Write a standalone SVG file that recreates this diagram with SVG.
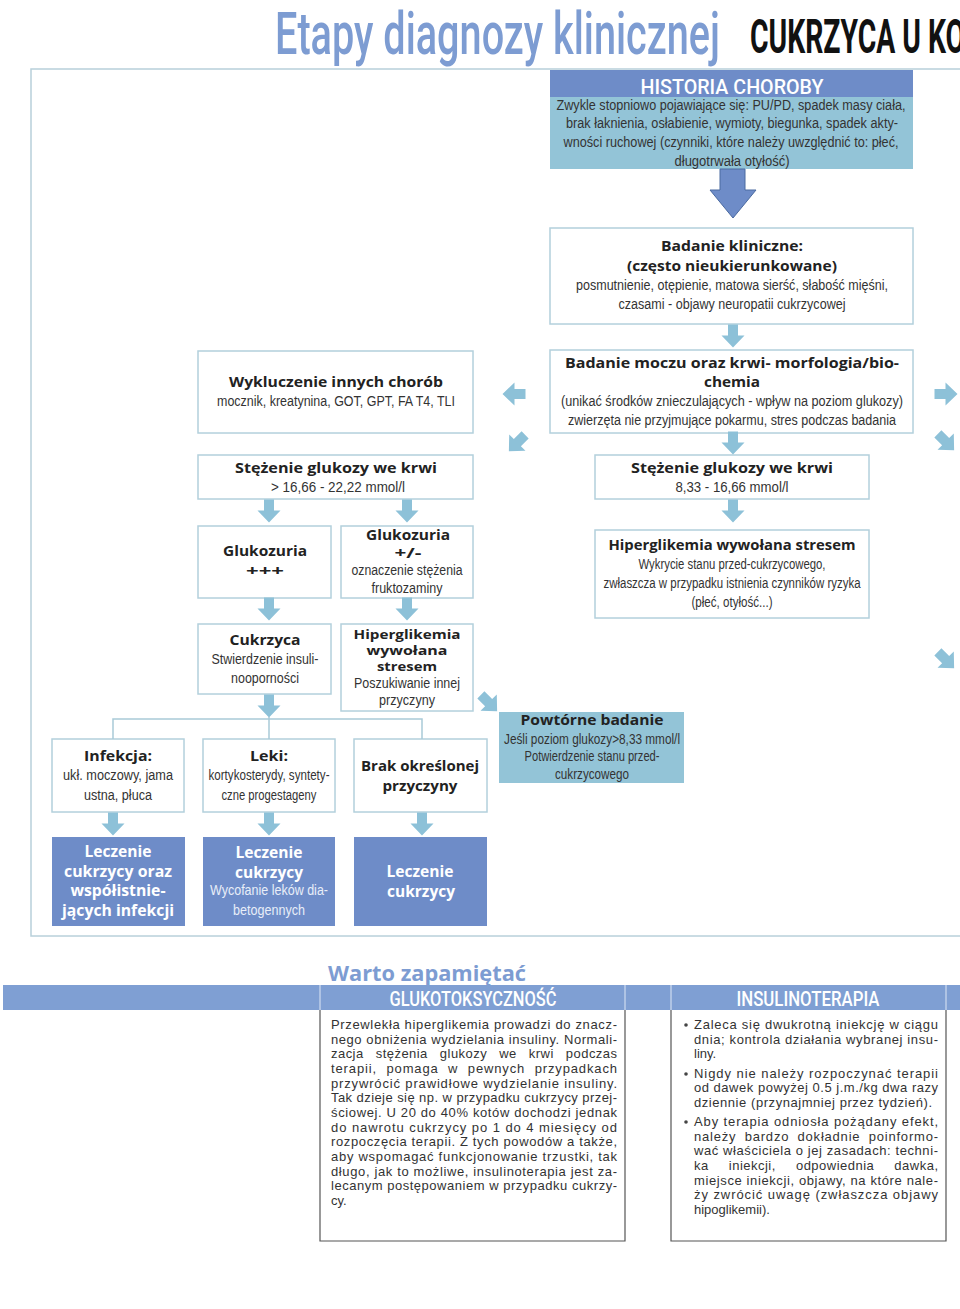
<svg xmlns="http://www.w3.org/2000/svg" xmlns:xlink="http://www.w3.org/1999/xlink" width="960" height="1309" viewBox="0 0 960 1309">
<style>
.box{fill:#ffffff;stroke:#b3d0dc;stroke-width:1.5}
.teal{fill:#93c4d7}
.dark{fill:#6e8cc8}
.r{font-family:"Liberation Sans",Arial,sans-serif;font-size:14px;fill:#333333;text-anchor:middle}
.b{font-family:"Open Sans","Liberation Sans",sans-serif;font-weight:bold;font-size:15px;fill:#222222;text-anchor:middle}
.bs{font-size:13px}
.bw{font-family:"Open Sans","Liberation Sans",sans-serif;font-weight:bold;font-size:16px;fill:#ffffff;text-anchor:middle}
.rw{font-family:"Liberation Sans",Arial,sans-serif;font-size:14px;fill:#e8eef8;text-anchor:middle}
.hd{font-family:Roboto,"Liberation Sans",Arial,sans-serif;font-weight:500;font-size:21px;fill:#ffffff;text-anchor:middle}
.p{font-family:"Liberation Sans",Arial,sans-serif;font-size:13px;fill:#333333}
.line{stroke:#a9cad8;stroke-width:1.5;fill:none}
.arr{fill:#8dc1d8}
</style>
<defs>
<path id="a" d="M-5,-11.5 h10 v11 h6.5 l-11.5,12 l-11.5,-12 h6.5 z"/>
</defs>
<rect width="960" height="1309" fill="#ffffff"/>

<g id="title">
<text x="275" y="54" font-family="Roboto,Liberation Sans,Arial,sans-serif" font-weight="500" font-size="59" fill="#7d9cd2" textLength="445" lengthAdjust="spacingAndGlyphs">Etapy diagnozy klinicznej</text>
<text x="750" y="53" font-family="Roboto,Liberation Sans,Arial,sans-serif" font-weight="bold" font-size="48" fill="#111111" textLength="215" lengthAdjust="spacingAndGlyphs">CUKRZYCA U KO</text>
</g>

<rect id="frame" x="31" y="69" width="960" height="867" fill="none" stroke="#b8d0da" stroke-width="1.5"/>

<g id="historia">
<rect class="teal" x="550" y="97" width="363" height="72"/>
<rect class="dark" x="550" y="70" width="363" height="27"/>
<text class="hd" x="732" y="94" font-size="22" textLength="183" lengthAdjust="spacingAndGlyphs">HISTORIA CHOROBY</text>
<text class="r" x="731" y="110" font-size="13.5" textLength="349" lengthAdjust="spacingAndGlyphs">Zwykle stopniowo pojawiające się: PU/PD, spadek masy ciała,</text>
<text class="r" x="732" y="128" font-size="13.5" textLength="332" lengthAdjust="spacingAndGlyphs">brak łaknienia, osłabienie, wymioty, biegunka, spadek akty-</text>
<text class="r" x="731" y="147" font-size="13.5" textLength="335" lengthAdjust="spacingAndGlyphs">wności ruchowej (czynniki, które należy uwzględnić to: płeć,</text>
<text class="r" x="732" y="166" font-size="13.5" textLength="115" lengthAdjust="spacingAndGlyphs">długotrwała otyłość)</text>
</g>

<g id="badanie-kliniczne">
<rect class="box" x="550" y="228" width="363" height="96"/>
<text class="b" x="732" y="251" textLength="142" lengthAdjust="spacingAndGlyphs">Badanie kliniczne:</text>
<text class="b" x="732" y="271" textLength="210" lengthAdjust="spacingAndGlyphs">(często nieukierunkowane)</text>
<text class="r" x="732" y="290" textLength="312" lengthAdjust="spacingAndGlyphs">posmutnienie, otępienie, matowa sierść, słabość mięśni,</text>
<text class="r" x="732" y="309" textLength="227" lengthAdjust="spacingAndGlyphs">czasami - objawy neuropatii cukrzycowej</text>
</g>

<g id="badanie-moczu">
<rect class="box" x="550" y="350" width="363" height="83"/>
<text class="b" x="732" y="368" textLength="334" lengthAdjust="spacingAndGlyphs">Badanie moczu oraz krwi- morfologia/bio-</text>
<text class="b" x="732" y="387" textLength="56" lengthAdjust="spacingAndGlyphs">chemia</text>
<text class="r" x="732" y="406" textLength="342" lengthAdjust="spacingAndGlyphs">(unikać środków znieczulających - wpływ na poziom glukozy)</text>
<text class="r" x="732" y="425" textLength="328" lengthAdjust="spacingAndGlyphs">zwierzęta nie przyjmujące pokarmu, stres podczas badania</text>
</g>

<g id="wykluczenie">
<rect class="box" x="198" y="351" width="275" height="82"/>
<text class="b" x="336" y="387" textLength="214" lengthAdjust="spacingAndGlyphs">Wykluczenie innych chorób</text>
<text class="r" x="336" y="406" textLength="238" lengthAdjust="spacingAndGlyphs">mocznik, kreatynina, GOT, GPT, FA T4, TLI</text>
</g>

<g id="stezenie-wysokie">
<rect class="box" x="198" y="455" width="275" height="44"/>
<text class="b" x="336" y="473" textLength="202" lengthAdjust="spacingAndGlyphs">Stężenie glukozy we krwi</text>
<text class="r" x="338" y="492" textLength="134" lengthAdjust="spacingAndGlyphs">&gt; 16,66 - 22,22 mmol/l</text>
</g>

<g id="stezenie-srednie">
<rect class="box" x="595" y="455" width="274" height="44"/>
<text class="b" x="732" y="473" textLength="202" lengthAdjust="spacingAndGlyphs">Stężenie glukozy we krwi</text>
<text class="r" x="732" y="492" textLength="113" lengthAdjust="spacingAndGlyphs">8,33 - 16,66 mmol/l</text>
</g>

<g id="glukozuria-plus">
<rect class="box" x="198" y="526" width="133" height="72"/>
<text class="b" x="265" y="556" textLength="84" lengthAdjust="spacingAndGlyphs">Glukozuria</text>
<text class="b" x="265" y="576" textLength="38" lengthAdjust="spacingAndGlyphs">+++</text>
</g>

<g id="glukozuria-plusminus">
<rect class="box" x="341" y="526" width="132" height="72"/>
<text class="b" x="408" y="540" textLength="84" lengthAdjust="spacingAndGlyphs">Glukozuria</text>
<text class="b" x="408" y="558" textLength="27" lengthAdjust="spacingAndGlyphs">+/-</text>
<text class="r" x="407" y="575" textLength="111" lengthAdjust="spacingAndGlyphs">oznaczenie stężenia</text>
<text class="r" x="407" y="593" textLength="71" lengthAdjust="spacingAndGlyphs">fruktozaminy</text>
</g>

<g id="hiperglikemia-stres-prawa">
<rect class="box" x="595" y="530" width="274" height="88"/>
<text class="b" x="732" y="550" textLength="247" lengthAdjust="spacingAndGlyphs">Hiperglikemia wywołana stresem</text>
<text class="r" x="732" y="569" textLength="187" lengthAdjust="spacingAndGlyphs">Wykrycie stanu przed-cukrzycowego,</text>
<text class="r" x="732" y="588" textLength="257" lengthAdjust="spacingAndGlyphs">zwłaszcza w przypadku istnienia czynników ryzyka</text>
<text class="r" x="732" y="607" textLength="81" lengthAdjust="spacingAndGlyphs">(płeć, otyłość...)</text>
</g>

<g id="cukrzyca">
<rect class="box" x="198" y="624" width="133" height="70"/>
<text class="b" x="265" y="645" textLength="71" lengthAdjust="spacingAndGlyphs">Cukrzyca</text>
<text class="r" x="265" y="664" textLength="107" lengthAdjust="spacingAndGlyphs">Stwierdzenie insuli-</text>
<text class="r" x="265" y="683" textLength="68" lengthAdjust="spacingAndGlyphs">nooporności</text>
</g>

<g id="hiperglikemia-stres-lewa">
<rect class="box" x="341" y="624" width="132" height="87"/>
<text class="b bs" x="407" y="639" textLength="107" lengthAdjust="spacingAndGlyphs">Hiperglikemia</text>
<text class="b bs" x="407" y="655" textLength="81" lengthAdjust="spacingAndGlyphs">wywołana</text>
<text class="b bs" x="407" y="671" textLength="60" lengthAdjust="spacingAndGlyphs">stresem</text>
<text class="r" x="407" y="688" textLength="106" lengthAdjust="spacingAndGlyphs">Poszukiwanie innej</text>
<text class="r" x="407" y="705" textLength="56" lengthAdjust="spacingAndGlyphs">przyczyny</text>
</g>

<g id="powtorne-badanie">
<rect class="teal" x="499" y="712" width="185" height="71"/>
<text class="b" x="592" y="725" textLength="143" lengthAdjust="spacingAndGlyphs">Powtórne badanie</text>
<text class="r" x="592" y="744" textLength="176" lengthAdjust="spacingAndGlyphs">Jeśli poziom glukozy&gt;8,33 mmol/l</text>
<text class="r" x="592" y="761" textLength="135" lengthAdjust="spacingAndGlyphs">Potwierdzenie stanu przed-</text>
<text class="r" x="592" y="779" textLength="74" lengthAdjust="spacingAndGlyphs">cukrzycowego</text>
</g>

<g id="infekcja">
<rect class="box" x="52" y="739" width="132" height="73"/>
<text class="b" x="118" y="761" textLength="68" lengthAdjust="spacingAndGlyphs">Infekcja:</text>
<text class="r" x="118" y="780" textLength="110" lengthAdjust="spacingAndGlyphs">ukł. moczowy, jama</text>
<text class="r" x="118" y="800" textLength="68" lengthAdjust="spacingAndGlyphs">ustna, płuca</text>
</g>

<g id="leki">
<rect class="box" x="203" y="739" width="132" height="73"/>
<text class="b" x="269" y="761" textLength="38" lengthAdjust="spacingAndGlyphs">Leki:</text>
<text class="r" x="269" y="780" textLength="121" lengthAdjust="spacingAndGlyphs">kortykosterydy, syntety-</text>
<text class="r" x="269" y="800" textLength="95" lengthAdjust="spacingAndGlyphs">czne progestageny</text>
</g>

<g id="brak-przyczyny">
<rect class="box" x="354" y="739" width="133" height="73"/>
<text class="b" x="420" y="771" textLength="118" lengthAdjust="spacingAndGlyphs">Brak określonej</text>
<text class="b" x="420" y="791" textLength="75" lengthAdjust="spacingAndGlyphs">przyczyny</text>
</g>

<g id="leczenie-infekcji">
<rect class="dark" x="52" y="837" width="133" height="89"/>
<text class="bw" x="118" y="857" textLength="67" lengthAdjust="spacingAndGlyphs">Leczenie</text>
<text class="bw" x="118" y="877" textLength="108" lengthAdjust="spacingAndGlyphs">cukrzycy oraz</text>
<text class="bw" x="118" y="896" textLength="95" lengthAdjust="spacingAndGlyphs">współistnie-</text>
<text class="bw" x="118" y="916" textLength="112" lengthAdjust="spacingAndGlyphs">jących infekcji</text>
</g>

<g id="leczenie-leki">
<rect class="dark" x="203" y="837" width="132" height="89"/>
<text class="bw" x="269" y="858" textLength="67" lengthAdjust="spacingAndGlyphs">Leczenie</text>
<text class="bw" x="269" y="878" textLength="68" lengthAdjust="spacingAndGlyphs">cukrzycy</text>
<text class="rw" x="269" y="895" textLength="118" lengthAdjust="spacingAndGlyphs">Wycofanie leków dia-</text>
<text class="rw" x="269" y="915" textLength="72" lengthAdjust="spacingAndGlyphs">betogennych</text>
</g>

<g id="leczenie-cukrzycy">
<rect class="dark" x="354" y="837" width="133" height="89"/>
<text class="bw" x="420" y="877" textLength="67" lengthAdjust="spacingAndGlyphs">Leczenie</text>
<text class="bw" x="421" y="897" textLength="68" lengthAdjust="spacingAndGlyphs">cukrzycy</text>
</g>

<g id="connectors">
<path d="M720,169 h25 v21 h11 l-23,28 l-23,-28 h10 z" fill="#6e8cc8" stroke="#4a6aa0" stroke-width="1"/>
<use href="#a" class="arr" transform="translate(733,336)"/>
<use href="#a" class="arr" transform="translate(733,443)"/>
<use href="#a" class="arr" transform="translate(514,394) rotate(90)"/>
<use href="#a" class="arr" transform="translate(517,443) rotate(45)"/>
<use href="#a" class="arr" transform="translate(946,394) rotate(-90)"/>
<use href="#a" class="arr" transform="translate(946,442) rotate(-45)"/>
<use href="#a" class="arr" transform="translate(946,660) rotate(-45)"/>
<use href="#a" class="arr" transform="translate(269,511)"/>
<use href="#a" class="arr" transform="translate(407,511)"/>
<use href="#a" class="arr" transform="translate(733,511)"/>
<use href="#a" class="arr" transform="translate(269,609)"/>
<use href="#a" class="arr" transform="translate(407,609)"/>
<use href="#a" class="arr" transform="translate(269,706)"/>
<use href="#a" class="arr" transform="translate(489,703) rotate(-45)"/>
<path class="line" d="M113,739 V719 H422 V739 M269,717 V739"/>
<use href="#a" class="arr" transform="translate(113,824)"/>
<use href="#a" class="arr" transform="translate(269,824)"/>
<use href="#a" class="arr" transform="translate(422,824)"/>
</g>

<g id="warto-zapamietac">
<text x="328" y="981" font-family="Open Sans,Liberation Sans,sans-serif" font-weight="bold" font-size="21" fill="#7d9cd2" textLength="198" lengthAdjust="spacingAndGlyphs">Warto zapamiętać</text>
<rect x="3" y="985" width="960" height="25" fill="#7f9fd3"/>
<path d="M320,985 V1010 M625,985 V1010 M671,985 V1010 M946,985 V1010" stroke="#dfe7f5" stroke-width="1"/>
<text class="hd" x="473" y="1006" font-size="20" textLength="167" lengthAdjust="spacingAndGlyphs">GLUKOTOKSYCZNOŚĆ</text>
<text class="hd" x="808" y="1006" font-size="20" textLength="143" lengthAdjust="spacingAndGlyphs">INSULINOTERAPIA</text>
</g>

<g id="glukotoksycznosc">
<path d="M320,1010 V1241 H625 V1010" fill="none" stroke="#555555" stroke-width="1.2"/>
<text class="p" x="331" y="1029" textLength="286" lengthAdjust="spacing">Przewlekła hiperglikemia prowadzi do znacz-</text>
<text class="p" x="331" y="1044" textLength="286" lengthAdjust="spacing">nego obniżenia wydzielania insuliny. Normali-</text>
<text class="p" x="331" y="1058" textLength="286" lengthAdjust="spacing" word-spacing="8">zacja stężenia glukozy we krwi podczas</text>
<text class="p" x="331" y="1073" textLength="286" lengthAdjust="spacing" word-spacing="5">terapii, pomaga w pewnych przypadkach</text>
<text class="p" x="331" y="1088" textLength="286" lengthAdjust="spacing">przywrócić prawidłowe wydzielanie insuliny.</text>
<text class="p" x="331" y="1102" textLength="286" lengthAdjust="spacing">Tak dzieje się np. w przypadku cukrzycy przej-</text>
<text class="p" x="331" y="1117" textLength="286" lengthAdjust="spacing">ściowej. U 20 do 40% kotów dochodzi jednak</text>
<text class="p" x="331" y="1132" textLength="286" lengthAdjust="spacing">do nawrotu cukrzycy po 1 do 4 miesięcy od</text>
<text class="p" x="331" y="1146" textLength="286" lengthAdjust="spacing">rozpoczęcia terapii. Z tych powodów a także,</text>
<text class="p" x="331" y="1161" textLength="286" lengthAdjust="spacing">aby wspomagać funkcjonowanie trzustki, tak</text>
<text class="p" x="331" y="1176" textLength="286" lengthAdjust="spacing">długo, jak to możliwe, insulinoterapia jest za-</text>
<text class="p" x="331" y="1190" textLength="286" lengthAdjust="spacing">lecanym postępowaniem w przypadku cukrzy-</text>
<text class="p" x="331" y="1205">cy.</text>
</g>

<g id="insulinoterapia">
<path d="M671,1010 V1241 H946 V1010" fill="none" stroke="#555555" stroke-width="1.2"/>
<circle cx="686" cy="1025" r="1.8" fill="#444444"/>
<circle cx="686" cy="1074" r="1.8" fill="#444444"/>
<circle cx="686" cy="1122" r="1.8" fill="#444444"/>
<text class="p" x="694" y="1029" textLength="244" lengthAdjust="spacing">Zaleca się dwukrotną iniekcję w ciągu</text>
<text class="p" x="694" y="1044" textLength="244" lengthAdjust="spacing">dnia; kontrola działania wybranej insu-</text>
<text class="p" x="694" y="1058">liny.</text>
<text class="p" x="694" y="1078" textLength="244" lengthAdjust="spacing">Nigdy nie należy rozpoczynać terapii</text>
<text class="p" x="694" y="1092" textLength="244" lengthAdjust="spacing">od dawek powyżej 0.5 j.m./kg dwa razy</text>
<text class="p" x="694" y="1107" textLength="238" lengthAdjust="spacing">dziennie (przynajmniej przez tydzień).</text>
<text class="p" x="694" y="1126" textLength="244" lengthAdjust="spacing">Aby terapia odniosła pożądany efekt,</text>
<text class="p" x="694" y="1141" textLength="244" lengthAdjust="spacing" word-spacing="4">należy bardzo dokładnie poinformo-</text>
<text class="p" x="694" y="1155" textLength="244" lengthAdjust="spacing">wać właściciela o jej zasadach: techni-</text>
<text class="p" x="694" y="1170" textLength="244" lengthAdjust="spacing" word-spacing="16">ka iniekcji, odpowiednia dawka,</text>
<text class="p" x="694" y="1185" textLength="244" lengthAdjust="spacing">miejsce iniekcji, objawy, na które nale-</text>
<text class="p" x="694" y="1199" textLength="244" lengthAdjust="spacing">ży zwrócić uwagę (zwłaszcza objawy</text>
<text class="p" x="694" y="1214">hipoglikemii).</text>
</g>
</svg>
